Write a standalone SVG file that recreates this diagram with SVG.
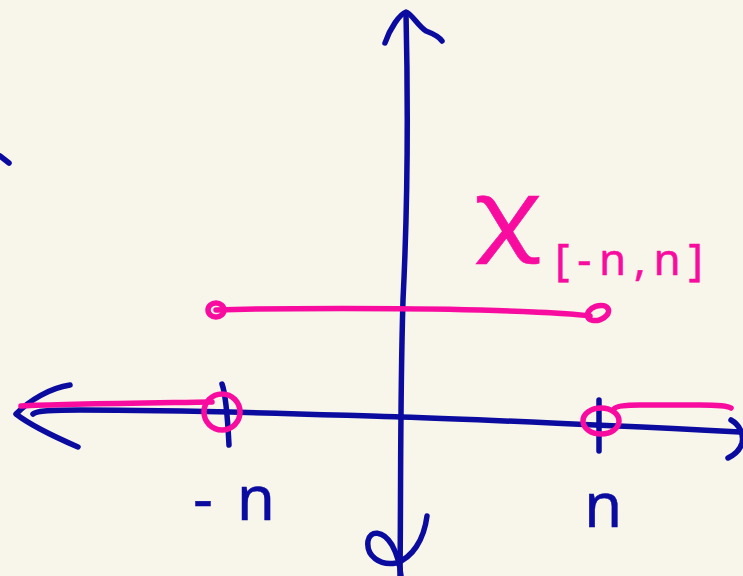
<svg xmlns="http://www.w3.org/2000/svg" width="743" height="576" viewBox="0 0 743 576">
<style>
.b{fill:none;stroke:#0b0ba0;stroke-width:5.5;stroke-linecap:round;stroke-linejoin:round}
.p{fill:none;stroke:#f80ca0;stroke-width:5.5;stroke-linecap:round;stroke-linejoin:round}
.tb{font-family:"Noto Sans","DejaVu Sans",sans-serif;fill:#0b0ba0;stroke:#0b0ba0;stroke-width:0.5}
.tp{font-family:"Noto Sans","DejaVu Sans",sans-serif;fill:#f80ca0;stroke:#f80ca0;stroke-width:0.5}
</style>
<rect width="743" height="576" fill="#f8f5ea"/>
<g id="connectors">
<path id="y-axis" class="b" d="M406,13 C408,100 408,200 403,300 C400,400 401,480 400,576"/>
<path class="b" d="M385,43 C390,28 400,14 406,12 C412,14 418,26 426,31 C434,34 440,38 442,41"/>
<path class="b" d="M427,516 C424,540 412,558 396,563 C380,566 366,556 368,541 C370,530 383,530 392,545 C397,554 400,566 401,576"/>
<path id="x-axis" class="b" d="M33,414 C36,411 45,410 80,410 C200,410 300,414 400,417 C500,420 620,426 740,432"/>
<path class="b" d="M70,385 C50,388 30,400 16,414 C30,425 55,437 78,447"/>
<path class="b" d="M731,420 C740,425 744,435 742,443 C740,450 734,455 728,458"/>
<path class="b" d="M222,384 C226,395 228,425 229,445"/>
<path class="b" d="M599,400 L599,451"/>
<path class="b" d="M0,156 L9,163"/>
</g>
<g id="indicator">
<path class="p" d="M21,406 C60,404 150,403 212,402"/>
<ellipse class="p" cx="222" cy="412" rx="18" ry="18"/>
<ellipse class="p" cx="601" cy="421" rx="18" ry="13"/>
<path class="p" d="M614,409 C616,406 625,405 640,405 L700,405 C720,405 728,406 731,408"/>
<path class="p" d="M216,310 C280,308 400,308 480,310 C540,312 570,313 590,316"/>
<ellipse class="p" cx="216" cy="310" rx="8" ry="7"/>
<ellipse class="p" cx="598" cy="313" rx="11" ry="7" transform="rotate(-20 598 313)"/>
</g>
<g id="label-chi">
<text class="tp" x="474" y="243" font-size="88" textLength="66" lengthAdjust="spacingAndGlyphs">χ</text>
<text class="tp" x="555" y="275" font-size="44" textLength="148" lengthAdjust="spacing">[-n,n]</text>
</g>
<g id="label-minus-n">
<text class="tb" x="193" y="520" font-size="62" textLength="82" lengthAdjust="spacing">-n</text>
</g>
<g id="label-n">
<text class="tb" x="584" y="527" font-size="62">n</text>
</g>
</svg>
